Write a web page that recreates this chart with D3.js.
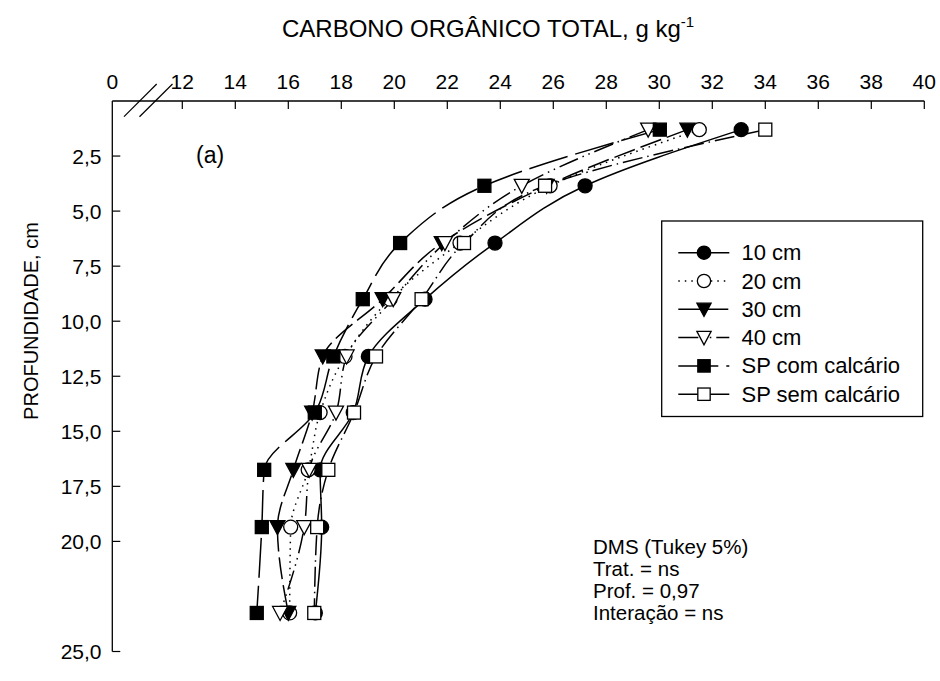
<!DOCTYPE html>
<html>
<head>
<meta charset="utf-8">
<script src="https://cdn.jsdelivr.net/npm/d3@7"></script>
<style>
  html, body { margin: 0; padding: 0; background: #fff; }
  svg { display: block; font-family: "Liberation Sans", Arial, Helvetica, sans-serif; }
</style>
</head>
<body>
<svg id="chart" width="940" height="681"></svg>
<script>
// Sampling depths (cm) for each layer
const depths = [1.3, 3.85, 6.45, 9.0, 11.6, 14.15, 16.75, 19.35, 23.25];

// Total organic carbon (g kg-1) per treatment, one value per depth
const cot10cm   = [33.09, 27.20, 23.80, 21.16, 19.02, 18.45, 17.20, 17.26, 17.02];
const cot20cm   = [31.51, 25.88, 22.48, 19.84, 18.14, 17.20, 16.75, 16.09, 16.05];
const cot30cm   = [31.06, 25.75, 21.79, 19.56, 17.30, 16.90, 16.19, 15.59, 16.00];
const cot40cm   = [29.58, 24.81, 21.91, 19.96, 18.20, 17.80, 16.79, 16.60, 15.69];
const cotSPcom  = [30.02, 23.40, 20.22, 18.81, 17.70, 17.00, 15.09, 15.00, 14.81];
const cotSPsem  = [34.00, 25.69, 22.63, 21.03, 19.31, 18.48, 17.51, 17.09, 16.98];

const seriesNames = ["10 cm", "20 cm", "30 cm", "40 cm", "SP com calcário", "SP sem calcário"];
const seriesValues = [cot10cm, cot20cm, cot30cm, cot40cm, cotSPcom, cotSPsem];

// Axis ticks
const xTicks = [0, 12, 14, 16, 18, 20, 22, 24, 26, 28, 30, 32, 34, 36, 38, 40];
const yTicks = [2.5, 5, 7.5, 10, 12.5, 15, 17.5, 20, 25];

const titleText = "CARBONO ORGÂNICO TOTAL, g kg";
const titleSup = "-1";
const yTitle = "PROFUNDIDADE, cm";
const panelTag = "(a)";
const statsLines = ["DMS (Tukey 5%)", "Trat. = ns", "Prof. = 0,97", "Interação = ns"];

// Marker and line style per series
const styles = [
  { shape: "circle",   fill: "#000", dash: null },
  { shape: "circle",   fill: "#fff", dash: "1.5,5" },
  { shape: "triDown",  fill: "#000", dash: "22,6" },
  { shape: "triDown",  fill: "#fff", dash: "20,5,1.5,5,1.5,5" },
  { shape: "square",   fill: "#000", dash: "40,8" },
  { shape: "square",   fill: "#fff", dash: "20,5,1.5,5" }
];

const svg = d3.select("#chart");

// Broken x axis: 0 sits at the origin, then a linear run from 12 to 40
const x = d3.scaleLinear().domain([0, 12, 40]).range([112.3, 182.3, 924.3]);
const y = d3.scaleLinear().domain([0, 25]).range([101, 651.5]);

const axisG = svg.append("g").attr("stroke", "#000").attr("fill", "none");

// Top axis line and inward ticks
axisG.append("line")
  .attr("x1", x(0)).attr("x2", x(40)).attr("y1", y(0)).attr("y2", y(0))
  .attr("stroke-width", 1.3);
axisG.selectAll("line.xt").data(xTicks.filter(d => d !== 0)).enter().append("line")
  .attr("class", "xt")
  .attr("x1", d => x(d)).attr("x2", d => x(d))
  .attr("y1", y(0)).attr("y2", y(0) + 8)
  .attr("stroke-width", 1.2);

// Left axis line and inward ticks
axisG.append("line")
  .attr("x1", x(0)).attr("x2", x(0)).attr("y1", y(0)).attr("y2", y(25))
  .attr("stroke-width", 1.3);
axisG.selectAll("line.yt").data(yTicks).enter().append("line")
  .attr("class", "yt")
  .attr("x1", x(0)).attr("x2", x(0) + 8)
  .attr("y1", d => y(d)).attr("y2", d => y(d))
  .attr("stroke-width", 1.2);

// Axis break marks
const brk = axisG.append("g").attr("stroke-width", 1.2);
[[124, 156.7], [139.5, 172.5]].forEach(([a, b]) => {
  brk.append("line").attr("x1", a).attr("y1", 116.7).attr("x2", b).attr("y2", 84);
});

// Tick labels
svg.append("g").selectAll("text").data(xTicks).enter().append("text")
  .attr("x", d => x(d)).attr("y", 89)
  .attr("text-anchor", "middle")
  .attr("font-size", 21)
  .text(d => d);

const fmtComma = d => d3.format(".1f")(d).replace(".", ",");
svg.append("g").selectAll("text").data(yTicks).enter().append("text")
  .attr("x", 101.5).attr("y", d => y(d) + 7.5)
  .attr("text-anchor", "end")
  .attr("font-size", 21)
  .text(d => fmtComma(d));

// Axis titles
const t = svg.append("text").attr("x", 282).attr("y", 36.5).attr("font-size", 24);
t.append("tspan").text(titleText);
t.append("tspan").attr("font-size", 15).attr("dy", -10).text(titleSup);

svg.append("text")
  .attr("transform", "translate(38,321) rotate(-90)")
  .attr("text-anchor", "middle")
  .attr("font-size", 20)
  .text(yTitle);

svg.append("text").attr("x", 196).attr("y", 163).attr("font-size", 23).text(panelTag);

// Marker drawing helper
function drawMarker(g, shape, fill, cx, cy, s) {
  const sw = 1.3;
  if (shape === "circle") {
    g.append("circle").attr("cx", cx).attr("cy", cy).attr("r", 7 * s)
      .attr("fill", fill).attr("stroke", "#000").attr("stroke-width", sw);
  } else if (shape === "square") {
    const h = 6.5 * s;
    g.append("rect").attr("x", cx - h).attr("y", cy - h).attr("width", 2 * h).attr("height", 2 * h)
      .attr("fill", fill).attr("stroke", "#000").attr("stroke-width", sw);
  } else {
    const w = 7.5 * s, h = 6.5 * s;
    g.append("path")
      .attr("d", `M${cx - w},${cy - h}L${cx + w},${cy - h}L${cx},${cy + h + 1}Z`)
      .attr("fill", fill).attr("stroke", "#000").attr("stroke-width", sw)
      .attr("stroke-linejoin", "miter");
  }
}

// Profile lines (drawn first), then markers in series order
const line = d3.line()
  .x(d => x(d[0]))
  .y(d => y(d[1]))
  .curve(d3.curveMonotoneY);

const linesG = svg.append("g").attr("fill", "none");
seriesValues.forEach((vals, i) => {
  const pts = vals.map((v, j) => [v, depths[j]]);
  linesG.append("path")
    .attr("d", line(pts))
    .attr("stroke", "#000")
    .attr("stroke-width", 1.5)
    .attr("stroke-dasharray", styles[i].dash);
});

const markG = svg.append("g");
seriesValues.forEach((vals, i) => {
  vals.forEach((v, j) => drawMarker(markG, styles[i].shape, styles[i].fill, x(v), y(depths[j]), 1));
});

// Legend
const lg = svg.append("g");
lg.append("rect").attr("x", 661.7).attr("y", 221).attr("width", 261).attr("height", 195.5)
  .attr("fill", "#fff").attr("stroke", "#000").attr("stroke-width", 1.3);
seriesNames.forEach((name, i) => {
  const cy = 252.7 + i * 28.3;
  lg.append("line").attr("x1", 678.3).attr("x2", 729.3).attr("y1", cy).attr("y2", cy)
    .attr("stroke", "#000").attr("stroke-width", 1.5)
    .attr("stroke-dasharray", styles[i].dash);
  drawMarker(lg, styles[i].shape, styles[i].fill, 704, cy, 0.95);
  lg.append("text").attr("x", 741.5).attr("y", cy + 7.5).attr("font-size", 22).text(name);
});

// Statistics note
svg.append("g").selectAll("text").data(statsLines).enter().append("text")
  .attr("x", 593).attr("y", (d, i) => 554 + i * 22)
  .attr("font-size", 20.5)
  .text(d => d);
</script>
</body>
</html>
